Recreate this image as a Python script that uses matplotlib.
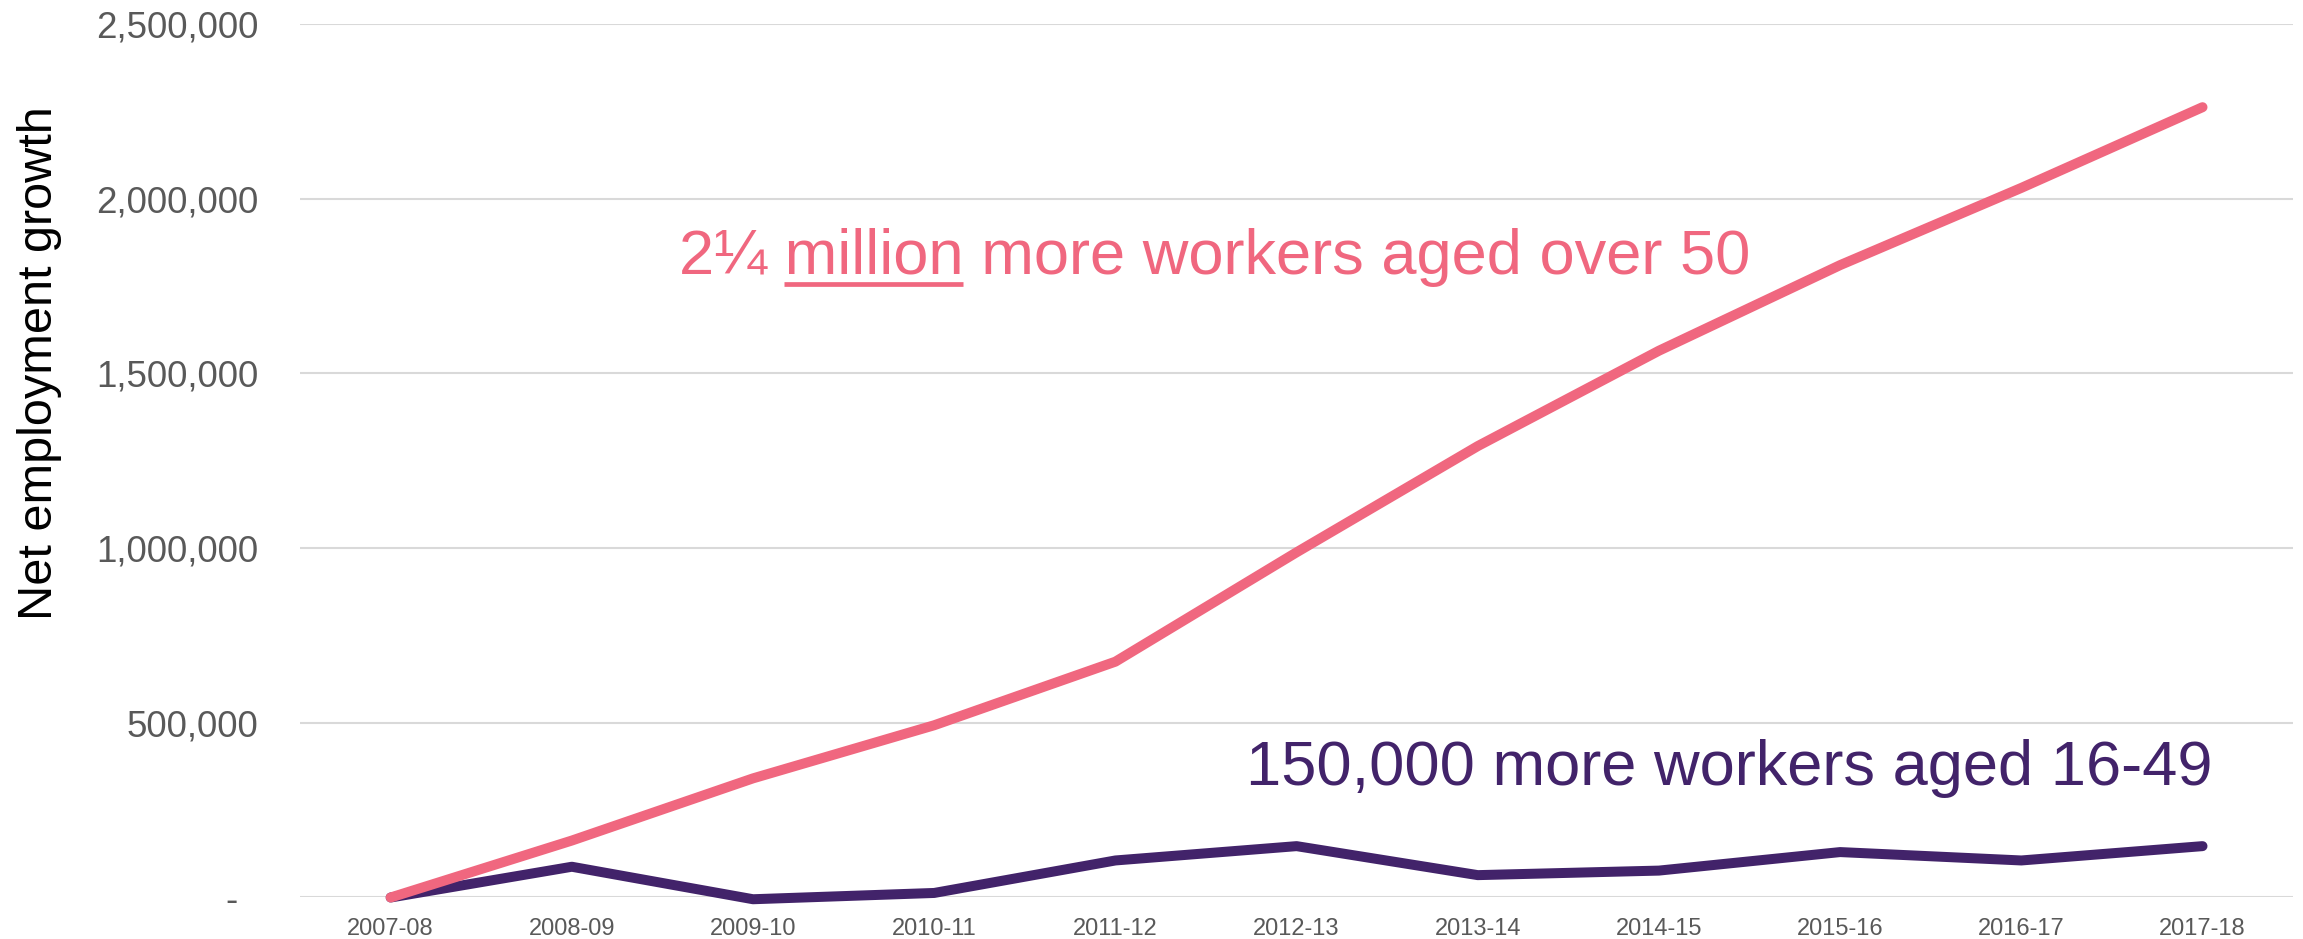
import matplotlib
matplotlib.use('Agg')
import matplotlib.pyplot as plt
from matplotlib.ticker import FixedLocator, FuncFormatter

# Net employment growth since 2007-08
years = ['2007-08', '2008-09', '2009-10', '2010-11', '2011-12', '2012-13',
         '2013-14', '2014-15', '2015-16', '2016-17', '2017-18']
aged_over_50 = [0, 163000, 341000, 493000, 675000, 988000,
                1292000, 1565000, 1810000, 2031000, 2262000]
aged_16_49 = [0, 88000, -5000, 13000, 106000, 147000,
              64000, 77000, 130000, 106000, 147000]
y_ticks = [0, 500000, 1000000, 1500000, 2000000, 2500000]

PINK = '#F0677F'
PURPLE = '#42236A'
GREY = '#595959'

plt.rcParams['font.family'] = ['Liberation Sans', 'DejaVu Sans']

fig = plt.figure(figsize=(23.03, 9.39), dpi=100)
ax = fig.add_axes([0.1303, 0.0442, 0.8654, 0.9302])

x = list(range(len(years)))
ax.plot(x, aged_16_49, color=PURPLE, lw=7.2, solid_capstyle='round',
        solid_joinstyle='round', clip_on=False, zorder=3)
ax.plot(x, aged_over_50, color=PINK, lw=7.2, solid_capstyle='round',
        solid_joinstyle='round', clip_on=False, zorder=4)

ax.set_xlim(-0.5, len(years) - 0.5)
ax.set_ylim(0, 2500000)
ax.yaxis.set_major_locator(FixedLocator(y_ticks))
ax.yaxis.set_major_formatter(FuncFormatter(lambda v, p: '-  ' if v == 0 else f'{v:,.0f}'))
ax.set_xticks(x)
ax.set_xticklabels(years)

ax.grid(axis='y', color='#D9D9D9', lw=1.5)
ax.set_axisbelow(True)
for s in ax.spines.values():
    s.set_visible(False)
ax.tick_params(axis='y', length=0, pad=30, labelsize=26.5, labelcolor=GREY)
ax.tick_params(axis='x', length=0, pad=15, labelsize=17, labelcolor=GREY)

fig.text(40 / 2303, 0.613, 'Net employment growth', rotation=90,
         ha='center', va='center', fontsize=35, color='black')

# annotations
ax.text(1.59, 1785000, '2\u00bc million more workers aged over 50',
        color=PINK, fontsize=45.5, ha='left', va='baseline')
ax.text(4.72, 322000, '150,000 more workers aged 16-49',
        color=PURPLE, fontsize=45.5, ha='left', va='baseline')

# underline "million"
fig.canvas.draw()
r = fig.canvas.get_renderer()
tmp1 = ax.text(1.59, 1785000, '2\u00bc million', fontsize=45.5, ha='left', va='baseline')
tmp2 = ax.text(1.59, 1785000, 'million', fontsize=45.5, ha='left', va='baseline')
right = tmp1.get_window_extent(r).x1
width = tmp2.get_window_extent(r).width
tmp1.remove()
tmp2.remove()
base_px = ax.transData.transform((1.59, 1785000))[1]
inv = ax.transData.inverted()
(x0, yl), (x1, _) = inv.transform([(right - width, base_px - 10), (right, base_px - 10)])
ax.plot([x0, x1], [yl, yl], color=PINK, lw=3.4, solid_capstyle='butt')

fig.savefig('out.png', dpi=100)
